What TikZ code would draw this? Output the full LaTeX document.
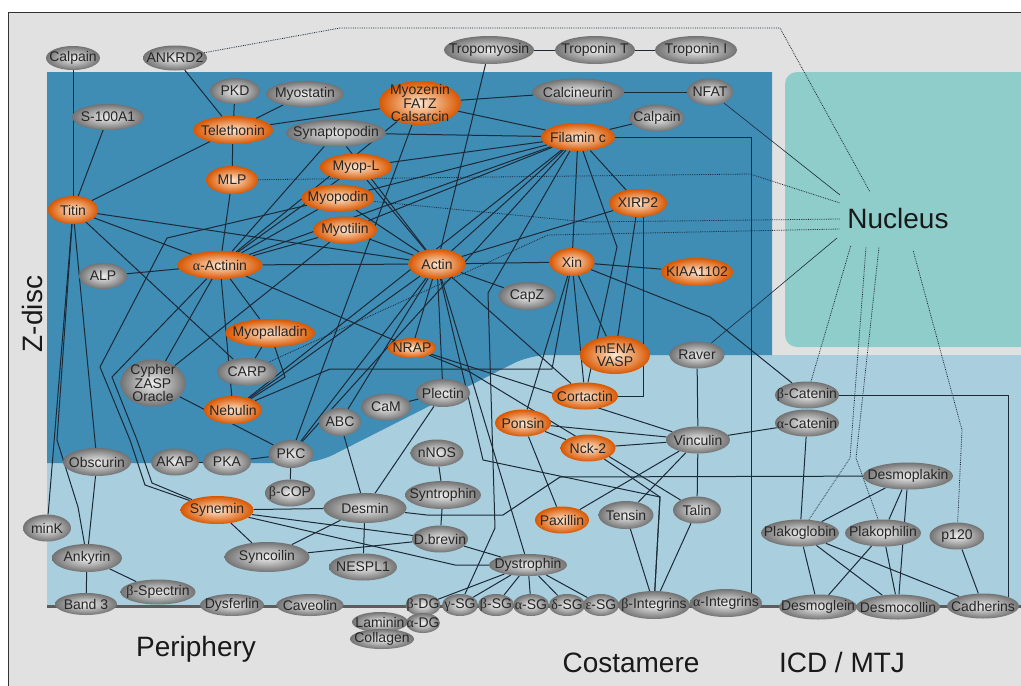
\documentclass[tikz,border=0pt]{standalone}
\usepackage{fontspec}
\setmainfont{Liberation Sans}
\newfontfamily\grk{Liberation Serif}
\usetikzlibrary{shapes.geometric}
\definecolor{zdisc}{HTML}{3F8CB5}
\definecolor{cyto}{HTML}{A9CEDD}
\definecolor{nucl}{HTML}{8FCDCA}
\definecolor{frame}{HTML}{E1E1E1}
\definecolor{linkcol}{HTML}{1C2A38}
\definecolor{memb}{HTML}{5C5C5C}
\pgfdeclarelayer{bg}
\pgfsetlayers{bg,main}

\begin{document}
\begin{tikzpicture}[x=1pt,y=-1pt,
      lbl/.style={font=\fontsize{14}{13.5}\selectfont, text=black!85, align=center, inner sep=0pt},
      gnode/.style n args={3}{
         ellipse, shade, inner color=white!94!black, outer color=black!55,
         minimum width=#1, minimum height=#2, inner sep=0pt,
         label={[lbl]center:#3}},
      onode/.style n args={3}{
         ellipse, shade, inner color=orange!18!white, outer color=orange!80!red!85!black,
         minimum width=#1, minimum height=#2, inner sep=0pt,
         label={[lbl]center:#3}},
      link/.style={draw=linkcol, line width=1pt},
      nucdot/.style={draw=linkcol, line width=0.8pt, densely dotted},
      nucthin/.style={draw=linkcol, line width=0.6pt},
      zone/.style={font=\fontsize{28}{30}\selectfont, text=black!90, inner sep=0pt}
      ]
\useasboundingbox (0,0) rectangle (1021,686);

\begin{pgfonlayer}{bg}
  \fill[white] (0,0) rectangle (1021,686);
  \filldraw[fill=frame, draw=black!80, line width=1pt] (8,12) rectangle (1040,700);
  \fill[cyto] (47,355) rectangle (1040,606);
  \fill[zdisc] (47,72) -- (772,72) -- (772,355) [rounded corners=18pt] -- (530,355) -- (317,463) [sharp corners] -- (47,463) -- cycle;
  \fill[nucl, rounded corners=12pt] (785,72) rectangle (1040,347);
  \draw[memb, line width=3pt] (47,606) -- (1021,606);
\end{pgfonlayer}

% region labels
\node[zone, rotate=90, anchor=base] (zlbl) at (42,314) {Z-disc};
\node[zone, anchor=base] (periph) at (196,656) {Periphery};
\node[zone, anchor=base] (costa) at (631,672) {Costamere};
\node[zone, anchor=base] (icd) at (842,672) {ICD / MTJ};
\node[zone, anchor=base] (nucleus) at (898,228) {Nucleus};

% top row
\node[gnode={54}{24}{Calpain}] (calp1) at (73,58) {};
\node[gnode={64}{25}{ANKRD2}] (ankrd) at (175,58) {};
\node[gnode={90}{28}{Tropomyosin}] (tropo) at (489,50) {};
\node[gnode={80}{28}{Troponin T}] (tropt) at (595,50) {};
\node[gnode={82}{28}{Troponin I}] (tropi) at (696,50) {};

% Z-disc
\node[gnode={50}{26}{PKD}] (pkd) at (235,91) {};
\node[gnode={78}{26}{Myostatin}] (myost) at (305,94) {};
\node[gnode={72}{26}{S-100A1}] (s100) at (108,117) {};
\node[onode={80}{28}{Telethonin}] (tele) at (233,130) {};
\node[onode={82}{44}{Myozenin\\FATZ\\Calsarcin}] (myoz) at (420,103) {};
\node[gnode={92}{27}{Calcineurin}] (calcin) at (578,92) {};
\node[gnode={46}{27}{NFAT}] (nfat) at (710,92) {};
\node[gnode={55}{27}{Calpain}] (calp2) at (657,118) {};
\node[gnode={100}{27}{Synaptopodin}] (synap) at (336,133) {};
\node[onode={74}{28}{Filamin c}] (filc) at (578,137) {};
\node[onode={52}{28}{MLP}] (mlp) at (232,180) {};
\node[onode={72}{27}{Myop-L}] (myopl) at (356,167) {};
\node[onode={73}{27}{Myopodin}] (myopo) at (338,198) {};
\node[onode={64}{27}{Myotilin}] (myoti) at (345,230) {};
\node[onode={50}{28}{Titin}] (titin) at (73,210) {};
\node[onode={58}{28}{XIRP2}] (xirp) at (638,203) {};
\node[onode={85}{28}{{\grk α}-Actinin}] (aact) at (220,265) {};
\node[onode={57}{30}{Actin}] (actin) at (437,264) {};
\node[onode={45}{28}{Xin}] (xin) at (572,262) {};
\node[onode={72}{28}{KIAA1102}] (kiaa) at (697,272) {};
\node[gnode={48}{26}{ALP}] (alp) at (103,276) {};
\node[gnode={57}{28}{CapZ}] (capz) at (527,296) {};
\node[onode={90}{28}{Myopalladin}] (myopa) at (270,333) {};
\node[onode={48}{20}{NRAP}] (nrap) at (412,348) {};
\node[onode={70}{38}{mENA\\VASP}] (mena) at (615,355) {};
\node[gnode={65}{47}{Cypher\\ZASP\\Oracle}] (cypher) at (153,383) {};
\node[gnode={60}{28}{CARP}] (carp) at (247,372) {};
\node[onode={58}{28}{Nebulin}] (nebul) at (233,410) {};
\node[gnode={42}{28}{ABC}] (abc) at (340,422) {};
\node[gnode={50}{27}{CaM}] (cam) at (386,407) {};
\node[gnode={54}{28}{Plectin}] (plect) at (443,393) {};
\node[onode={66}{27}{Cortactin}] (cortac) at (585,396) {};

% cytoplasm
\node[gnode={55}{27}{Raver}] (raver) at (697,355) {};
\node[gnode={64}{27}{{\grk β}-Catenin}] (bcat) at (807,395) {};
\node[gnode={64}{27}{{\grk α}-Catenin}] (acat) at (807,423) {};
\node[onode={56}{27}{Ponsin}] (ponsin) at (523,423) {};
\node[gnode={64}{27}{Vinculin}] (vinc) at (698,440) {};
\node[onode={55}{27}{Nck-2}] (nck) at (588,448) {};
\node[gnode={68}{28}{Obscurin}] (obsc) at (97,462) {};
\node[gnode={48}{27}{AKAP}] (akap) at (175,462) {};
\node[gnode={48}{27}{PKA}] (pka) at (227,462) {};
\node[gnode={45}{28}{PKC}] (pkc) at (291,454) {};
\node[gnode={53}{27}{nNOS}] (nnos) at (437,453) {};
\node[gnode={90}{27}{Desmoplakin}] (dplak) at (908,476) {};
\node[gnode={50}{27}{{\grk β}-COP}] (bcop) at (290,493) {};
\node[gnode={76}{28}{Syntrophin}] (syntro) at (443,495) {};
\node[gnode={83}{30}{Desmin}] (desmin) at (365,508) {};
\node[onode={73}{28}{Synemin}] (synem) at (217,510) {};
\node[gnode={48}{27}{Talin}] (talin) at (697,510) {};
\node[onode={54}{27}{Paxillin}] (paxil) at (562,520) {};
\node[gnode={55}{28}{Tensin}] (tensin) at (626,515) {};
\node[gnode={48}{27}{minK}] (mink) at (47,528) {};
\node[gnode={78}{27}{Plakoglobin}] (pglob) at (800,533) {};
\node[gnode={76}{27}{Plakophilin}] (pphil) at (883,533) {};
\node[gnode={55}{27}{p120}] (ptwenty) at (957,536) {};
\node[gnode={56}{27}{D.brevin}] (dbrev) at (440,539) {};
\node[gnode={70}{28}{Ankyrin}] (ankyr) at (87,558) {};
\node[gnode={85}{30}{Syncoilin}] (syncoil) at (267,557) {};
\node[gnode={68}{27}{NESPL1}] (nespl) at (363,567) {};
\node[gnode={78}{22}{Dystrophin}] (dystro) at (528,565) {};
\node[gnode={75}{25}{{\grk β}-Spectrin}] (bspec) at (158,592) {};

% membrane
\node[gnode={62}{22}{Band 3}] (band3) at (86,604) {};
\node[gnode={64}{22}{Dysferlin}] (dysfer) at (232,605) {};
\node[gnode={67}{22}{Caveolin}] (caveo) at (310,605) {};
\node[gnode={35}{22}{{\grk β}-DG}] (bdg) at (423,605) {};
\node[gnode={36}{22}{{\grk γ}-SG}] (gsg) at (460,605) {};
\node[gnode={36}{22}{{\grk β}-SG}] (bsg) at (496,605) {};
\node[gnode={36}{22}{{\grk α}-SG}] (asg) at (531,605) {};
\node[gnode={36}{22}{{\grk δ}-SG}] (dsg) at (567,605) {};
\node[gnode={36}{22}{{\grk ε}-SG}] (esg) at (601,605) {};
\node[gnode={72}{28}{{\grk β}-Integrins}] (bint) at (654,605) {};
\node[gnode={72}{28}{{\grk α}-Integrins}] (aint) at (726,603) {};
\node[gnode={78}{25}{Desmoglein}] (dglein) at (818,607) {};
\node[gnode={84}{25}{Desmocollin}] (dcollin) at (898,607) {};
\node[gnode={72}{25}{Cadherins}] (cadh) at (983,606) {};
\node[gnode={56}{20}{Laminin}] (lamin) at (380,622) {};
\node[gnode={34}{20}{{\grk α}-DG}] (adg) at (423,623) {};
\node[gnode={64}{20}{Collagen}] (collag) at (382,639) {};

% ends of the lines into the nucleus
\coordinate (nu1) at (870,192);
\coordinate (nu2) at (840,203);
\coordinate (nu3) at (840,219);
\coordinate (nu4) at (840,229);
\coordinate (nu5) at (851,245);
\coordinate (nu6) at (866,247);
\coordinate (nu7) at (879,247);
\coordinate (nu8) at (913,250);
\coordinate (nu9) at (840,195);
\coordinate (nu10) at (837,238);

\begin{pgfonlayer}{bg}
  \foreach \i/\j in {% start node/end node
    tropo/tropt, tropt/tropi, tropo/actin,
    calp1/titin, s100/titin, tele/titin, ankrd/tele, pkd/tele, myost/tele, tele/mlp, tele/myoz,
    myoz/calcin, calcin/nfat, myoz/filc, synap/filc, calp2/filc,
    filc/myopl, filc/myopo, filc/myoti, filc/actin, filc/xirp, filc/xin, filc/aact, filc/nebul, filc/pkc,
    mlp/aact, aact/synap, aact/myopl, aact/myopo, aact/myoti, aact/myoz, aact/actin, aact/alp,
    aact/titin, aact/myopa, aact/nebul, aact/cypher, aact/nrap,
    actin/titin, actin/synap, actin/myopl, actin/myopo, actin/myoti, actin/xirp, actin/xin, actin/capz,
    actin/nrap, actin/nebul, actin/pkc, actin/abc, actin/plect, actin/cortac, actin/dystro,
    xin/kiaa, xin/mena, xin/cortac, xin/ponsin, xirp/mena,
    titin/carp, titin/obsc, titin/mink, myopa/carp, cypher/myoti, cypher/pkc, myoz/pkc,
    cam/plect, plect/desmin, abc/desmin, akap/pka, pka/pkc, pkc/bcop,
    nrap/vinc, ponsin/vinc, ponsin/nck, nck/vinc, ponsin/paxil, vinc/paxil, vinc/tensin, vinc/talin,
    raver/vinc, vinc/acat, acat/pglob, talin/bint, tensin/bint,
    synem/desmin, synem/syncoil, syncoil/desmin, syncoil/dbrev, synem/dbrev, desmin/nespl,
    dbrev/syntro, syntro/nnos, dbrev/dystro,
    dystro/bdg, dystro/gsg, dystro/bsg, dystro/asg, dystro/dsg, dystro/esg,
    obsc/ankyr, ankyr/band3, ankyr/bspec,
    pglob/dplak, pphil/dplak, dplak/dcollin, pglob/dglein, pglob/dcollin, pglob/cadh,
    pphil/dglein, pphil/dcollin, ptwenty/cadh}
    \draw[link] (\i) -- (\j);

  % bent connectors
  \draw[link] (filc.east) -| (aint.north east);
  \draw[link] (bcat.east) -| (cadh.north east);
  \draw[link] ([xshift=5pt]xirp.south) |- (cortac.east);
  \draw[link] (xin) -- (710,317) -- (bcat);
  \draw[link] (nebul) -- (330,369) -- (552,369) -- (xin);
  \draw[link] (filc) -- (617,247) -- (cortac);
  \draw[link] (filc) -- (488,293) -- (495,528) -- (gsg);
  \draw[link] (actin) -- (483,460) -- (660,497) -- (bint);
  \draw[link] (nck) -- (660,497) -- (bint);
  \draw[link] (desmin) -- (427,515) -- (503,515) -- (560,477) -- (dplak);
  \draw[link] (synem) -- (455,565) -- (dystro);
  \draw[link] (myopo) -- (167,238) -- (100,367) -- (130,440) -- (145,485) -- (synem);
  \draw[link] (aact) -- (112,377) -- (137,440) -- (152,483) -- (synem);
  \draw[link] (titin) -- (57,440) -- (78,507) -- (ankyr);
  \draw[link] (myopa) -- (285,377) -- (nebul);
  \draw[link] (nrap) -- (470,372) -- (talin);

  % into the nucleus
  \draw[nucdot] (ankrd) -- (340,28) -- (780,28) -- (nu1);
  \draw[nucdot] (mlp) -- (750,174) -- (nu2);
  \draw[nucdot] (myopo) -- (587,222) -- (nu3);
  \draw[nucdot] (carp) -- (548,235) -- (nu4);
  \draw[nucdot] (bcat) -- (nu5);
  \draw[nucdot] (pglob) -- (850,458) -- (nu6);
  \draw[nucdot] (pphil) -- (856,458) -- (nu7);
  \draw[nucdot] (ptwenty) -- (962,430) -- (nu8);
  \draw[nucthin] (nfat) -- (nu9);
  \draw[nucthin] (raver) -- (nu10);
\end{pgfonlayer}
\end{tikzpicture}
\end{document}
